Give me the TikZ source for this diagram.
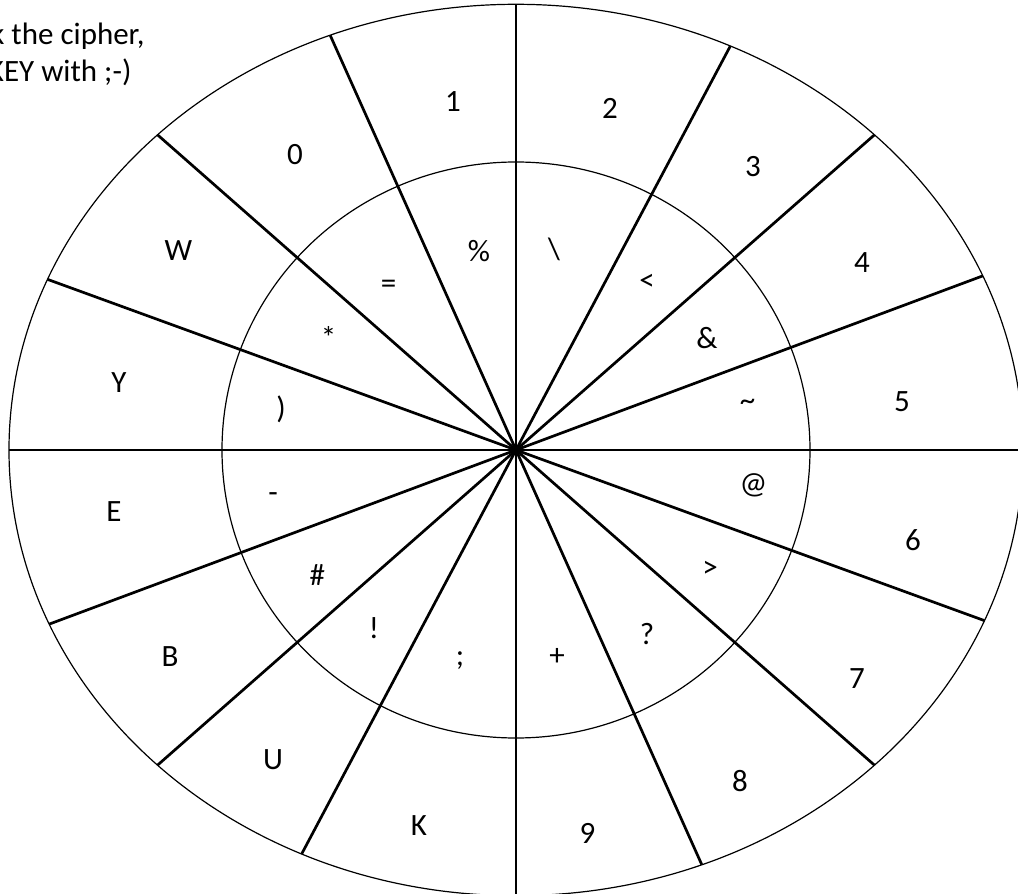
\documentclass[tikz,border=0pt]{standalone}
\usepackage{fontspec}
\setmainfont{Carlito}

\begin{document}
\begin{tikzpicture}[x=0.5pt, y=0.5pt, spoke/.style={line width=1.35pt}, ring/.style={line width=0.6pt}, glyph/.style={font=\fontsize{15.5}{18.6}\selectfont}]
			\useasboundingbox (-516,-444) rectangle (502,450);
			\clip (-516,-444) rectangle (502,450);
			\node[glyph, anchor=base east] (hint1) at (-364.3,405) {k the cipher,};
			\node[glyph, anchor=base east] (hint2) at (-377.5,368.3) {KEY with ;-)};
			\draw[ring] (0,0) ellipse [x radius=507, y radius=445.7];
			\draw[ring] (0,0) ellipse [x radius=294, y radius=288];
			\draw[spoke] (507,0) -- (-507,0);
			\draw[spoke] (466.7,174.1) -- (-466.7,-174.1);
			\draw[spoke] (358.5,315.2) -- (-358.5,-315.2);
			\draw[spoke] (214.3,403.9) -- (-214.3,-403.9);
			\draw[spoke] (0,445.7) -- (0,-445.7);
			\draw[spoke] (-185.8,414.7) -- (185.8,-414.7);
			\draw[spoke] (-358.5,315.2) -- (358.5,-315.2);
			\draw[spoke] (-468.4,170.6) -- (468.4,-170.6);
			% outer ring
			\node[glyph] (d1) at (-63,348.5) {1};
			\node[glyph] (d2) at (94,342) {2};
			\node[glyph] (d0) at (-221,295) {0};
			\node[glyph] (d3) at (237,283.5) {3};
			\node[glyph] (lW) at (-337.5,199) {W};
			\node[glyph] (d4) at (346,187) {4};
			\node[glyph] (lY) at (-397,67) {Y};
			\node[glyph] (d5) at (386,48) {5};
			\node[glyph] (lE) at (-402,-62) {E};
			\node[glyph] (d6) at (397,-90.5) {6};
			\node[glyph] (lB) at (-346,-207) {B};
			\node[glyph] (d7) at (341,-228.5) {7};
			\node[glyph] (lU) at (-243,-309.5) {U};
			\node[glyph] (d8) at (224,-331) {8};
			\node[glyph] (lK) at (-97,-375.6) {K};
			\node[glyph] (d9) at (71.5,-383.6) {9};
			% inner ring
			\node[glyph] (pct) at (-37,198.6) {\%};
			\node[glyph] (bsl) at (38,200.5) {\textbackslash};
			\node[glyph] (eq) at (-127.5,163) {=};
			\node[glyph] (lt) at (131,168) {<};
			\node[glyph] (ast) at (-187.5,113) {*};
			\node[glyph] (amp) at (191,111.7) {\&};
			\node[glyph] (rpar) at (-235,40.5) {)};
			\node[glyph] (tld) at (231.5,45.5) {\textasciitilde};
			\node[glyph] (dash) at (-243,-48) {-};
			\node[glyph] (at) at (237.5,-35) {@};
			\node[glyph] (hash) at (-198.6,-124.8) {\#};
			\node[glyph] (gt) at (194,-119) {>};
			\node[glyph] (excl) at (-142,-178.4) {!};
			\node[glyph] (qst) at (131,-184) {?};
			\node[glyph] (semi) at (-56,-211) {;};
			\node[glyph] (plus) at (41,-207) {+};
			\end{tikzpicture}
\end{document}
